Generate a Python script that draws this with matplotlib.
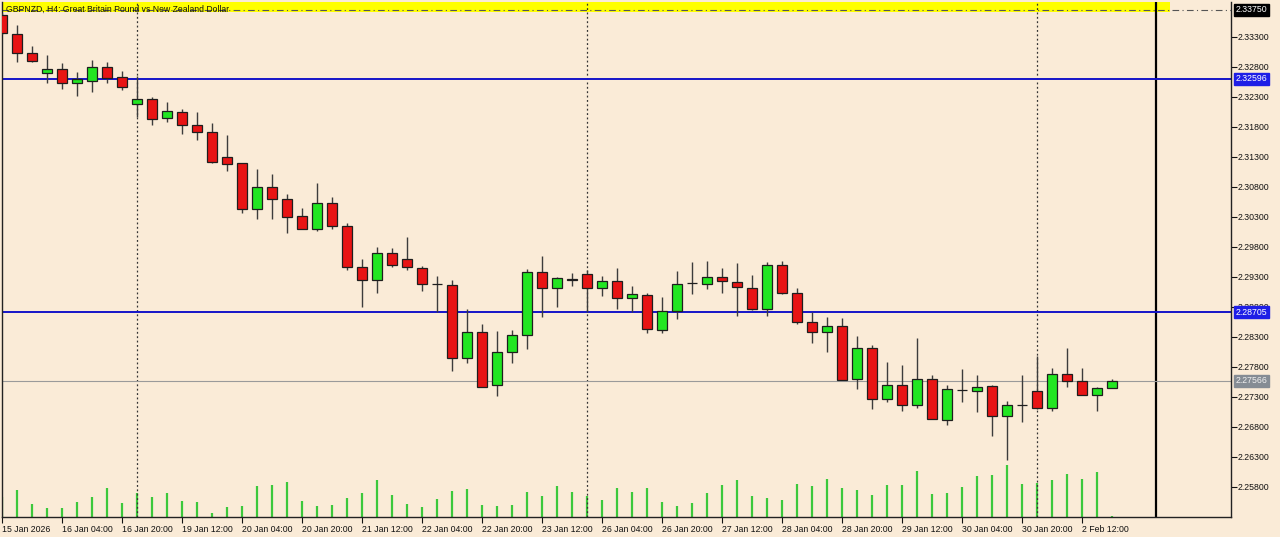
import matplotlib
matplotlib.use("Agg")
import matplotlib.pyplot as plt
import numpy as np

plt.rcParams['font.family'] = ['Liberation Sans', 'DejaVu Sans']

title = "GBPNZD, H4: Great Britain Pound vs New Zealand Dollar"

opens = [2.33662, 2.33345, 2.33033, 2.32690, 2.32767, 2.32523, 2.32567, 2.32800, 2.32623, 2.32173,
         2.32257, 2.31940, 2.32050, 2.31833, 2.31707, 2.31295, 2.31187, 2.30423, 2.30790, 2.30590,
         2.30312, 2.30100, 2.30523, 2.30150, 2.29467, 2.29240, 2.29700, 2.29590, 2.29450, 2.29183,
         2.29157, 2.27950, 2.28373, 2.27495, 2.28040, 2.28323, 2.29373, 2.29107, 2.29257, 2.29345,
         2.29117, 2.29228, 2.28950, 2.28995, 2.28412, 2.28728, 2.29190, 2.29178, 2.29290, 2.29217,
         2.29107, 2.28757, 2.29495, 2.29023, 2.28540, 2.28373, 2.28478, 2.27590, 2.28107, 2.27257,
         2.27495, 2.27157, 2.27600, 2.26907, 2.27412, 2.27395, 2.27478, 2.26983, 2.27162, 2.27395,
         2.27107, 2.27673, 2.27562, 2.27323, 2.27450]
highs = [2.33695, 2.33495, 2.33145, 2.32995, 2.32867, 2.32712, 2.32912, 2.32883, 2.32733, 2.32645,
         2.32290, 2.32212, 2.32090, 2.32045, 2.31867, 2.31667, 2.31195, 2.31095, 2.31012, 2.30678,
         2.30450, 2.30857, 2.30633, 2.30190, 2.29590, 2.29790, 2.29773, 2.29967, 2.29483, 2.29312,
         2.29245, 2.28757, 2.28507, 2.28390, 2.28407, 2.29423, 2.29645, 2.29300, 2.29357, 2.29412,
         2.29312, 2.29440, 2.29145, 2.29033, 2.28967, 2.29395, 2.29545, 2.29562, 2.29440, 2.29523,
         2.29328, 2.29545, 2.29562, 2.29107, 2.28712, 2.28633, 2.28607, 2.28312, 2.28162, 2.27878,
         2.27828, 2.28273, 2.27662, 2.27495, 2.27757, 2.27657, 2.27495, 2.27233, 2.27657, 2.27978,
         2.27773, 2.28107, 2.27783, 2.27457, 2.27595]
lows = [2.33345, 2.32873, 2.32878, 2.32533, 2.32423, 2.32312, 2.32383, 2.32533, 2.32412, 2.31967,
        2.31828, 2.31873, 2.31673, 2.31578, 2.31190, 2.31062, 2.30362, 2.30257, 2.30257, 2.30023,
        2.30095, 2.30062, 2.30100, 2.29412, 2.28800, 2.29033, 2.29467, 2.29412, 2.29067, 2.28712,
        2.27728, 2.27867, 2.27462, 2.27312, 2.27867, 2.28090, 2.28633, 2.28790, 2.29145, 2.28717,
        2.28978, 2.28757, 2.28717, 2.28357, 2.28367, 2.28600, 2.29007, 2.29100, 2.29033, 2.28650,
        2.28745, 2.28650, 2.29012, 2.28512, 2.28200, 2.28045, 2.27573, 2.27423, 2.27090, 2.27217,
        2.27062, 2.27107, 2.26928, 2.26823, 2.27217, 2.27045, 2.26650, 2.26245, 2.26883, 2.27095,
        2.27062, 2.27467, 2.27323, 2.27062, 2.27440]
closes = [2.33362, 2.33033, 2.32900, 2.32767, 2.32523, 2.32590, 2.32800, 2.32617, 2.32457, 2.32257,
          2.31923, 2.32057, 2.31833, 2.31707, 2.31217, 2.31173, 2.30428, 2.30790, 2.30590, 2.30300,
          2.30100, 2.30523, 2.30145, 2.29467, 2.29240, 2.29700, 2.29490, 2.29457, 2.29183, 2.29173,
          2.27950, 2.28373, 2.27467, 2.28045, 2.28323, 2.29373, 2.29107, 2.29273, 2.29252, 2.29117,
          2.29228, 2.28950, 2.29007, 2.28428, 2.28728, 2.29173, 2.29187, 2.29290, 2.29228, 2.29123,
          2.28757, 2.29495, 2.29023, 2.28550, 2.28373, 2.28478, 2.27578, 2.28107, 2.27257, 2.27495,
          2.27157, 2.27600, 2.26928, 2.27423, 2.27407, 2.27467, 2.26983, 2.27162, 2.27167, 2.27107,
          2.27673, 2.27562, 2.27323, 2.27450, 2.27566]
volumes = [1000, 1350, 650, 450, 450, 750, 1000, 1450, 700, 1200,
           1000, 1200, 800, 750, 200, 500, 550, 1550, 1600, 1750,
           800, 550, 600, 950, 1200, 1850, 1100, 650, 500, 900,
           1300, 1400, 600, 550, 600, 1250, 1050, 1550, 1250, 1050,
           850, 1450, 1250, 1450, 750, 550, 700, 1200, 1600, 1850,
           1050, 950, 850, 1650, 1550, 1900, 1450, 1350, 1100, 1600,
           1600, 2300, 1150, 1200, 1500, 2050, 2100, 2600, 1650, 1700,
           1850, 2150, 1900, 2250, 50]

xtick_bars = [0, 4, 8, 12, 16, 20, 24, 28, 32, 36, 40, 44, 48, 52, 56, 60, 64, 68, 72]
xtick_labels = ["15 Jan 2026", "16 Jan 04:00", "16 Jan 20:00", "19 Jan 12:00", "20 Jan 04:00",
                "20 Jan 20:00", "21 Jan 12:00", "22 Jan 04:00", "22 Jan 20:00", "23 Jan 12:00",
                "26 Jan 04:00", "26 Jan 20:00", "27 Jan 12:00", "28 Jan 04:00", "28 Jan 20:00",
                "29 Jan 12:00", "30 Jan 04:00", "30 Jan 20:00", "2 Feb 12:00"]
ytick_values = [2.25800, 2.26300, 2.26800, 2.27300, 2.27800, 2.28300, 2.28800,
                2.29300, 2.29800, 2.30300, 2.30800, 2.31300, 2.31800, 2.32300, 2.32800, 2.33300]
separator_bars = [9, 39, 69]
shift_bar = 76.9
blue_levels = [2.32596, 2.28705]
bid_price = 2.27566
top_level = 2.33750
y_range = (2.25295, 2.33878)
x_range = (0.0, 81.92)

BG = "#FAEBD7"
BULL = "#22E622"
BEAR = "#E81414"
VOLC = "#3CC83C"

W, H = 1280, 537
fig = plt.figure(figsize=(W / 100, H / 100), dpi=100, facecolor=BG)
ax = fig.add_axes([2.3 / W, 20 / H, (1231 - 2.3) / W, 515 / H])
ax.set_facecolor(BG)
ax2 = ax.twinx()
ax.yaxis.tick_right()
ax.set_zorder(2)
ax2.set_zorder(1)
ax.patch.set_visible(False)
ax2.patch.set_visible(True)
ax2.patch.set_facecolor(BG)

x = np.arange(len(opens))
o = np.array(opens); c = np.array(closes); h = np.array(highs); l = np.array(lows)

# volumes
ax2.vlines(x, 0, volumes, colors=VOLC, linewidth=1.6)
ax2.set_ylim(0, 515 * 50)
ax2.set_yticks([])
for s in ax2.spines.values():
    s.set_visible(False)

# yellow band + top dash-dot line
ax.axhspan(2.33712, y_range[1], xmin=0, xmax=(77.85 - x_range[0]) / (x_range[1] - x_range[0]),
           color="#FFFF00", zorder=1, lw=0)
ax.axhline(top_level, color="#555555", lw=0.8, ls=(0, (6, 3, 1, 3)), zorder=2)

# separators
for b in separator_bars:
    ax.axvline(b, color="#333333", lw=0.9, ls=(0, (1.5, 2)), zorder=1.5)
ax.axvline(shift_bar, color="black", lw=1.6, zorder=1.5)

# levels
for lv in blue_levels:
    ax.axhline(lv, color="#1414C8", lw=1.4, zorder=2)
ax.axhline(bid_price, color="#9A9A9A", lw=0.8, zorder=1.6)

# candles
ax.vlines(x, l, h, colors="#3C3C3C", linewidth=1.0, zorder=3)
bull = c >= o
bottoms = np.minimum(o, c)
heights = np.maximum(np.abs(c - o), 0.00003)
colors = [BULL if b else BEAR for b in bull]
ax.bar(x, heights, bottom=bottoms, width=0.65, color=colors, edgecolor="#1E1E1E",
       linewidth=0.9, zorder=4)

ax.set_xlim(*x_range)
ax.set_ylim(*y_range)

# axes styling
for side in ["left", "bottom", "right"]:
    ax.spines[side].set_color("#222222")
    ax.spines[side].set_linewidth(1.0)
ax.spines["top"].set_visible(False)

ax.set_xticks(xtick_bars)
ax.set_xticklabels(xtick_labels, ha="left", fontsize=6.3)
ax.tick_params(axis="x", direction="out", length=4, width=0.8, pad=2, colors="#111111")
ax.set_yticks(ytick_values)
ax.set_yticklabels([f"{v:.5f}" for v in ytick_values], fontsize=6.3)
ax.tick_params(axis="y", direction="out", length=4, width=0.8, pad=1, colors="#111111",
               right=True, left=False, labelright=True, labelleft=False)

# title
ax.text(4 / 1228.7, top_level, title, transform=ax.get_yaxis_transform(),
        fontsize=6.2, va="center", ha="left", color="#111111", zorder=6)

# price boxes
boxes = [(top_level, "black", "white"), (blue_levels[0], "#1E1EE6", "white"),
         (blue_levels[1], "#1E1EE6", "white"), (bid_price, "#858C94", "#F0F0F0")]
for val, bg, fg in boxes:
    ax.text(1.0 + 5 / 1228.7, val, f"{val:.5f}", transform=ax.get_yaxis_transform(),
            fontsize=6.3, va="center", ha="left", color=fg, clip_on=False, zorder=10,
            bbox=dict(boxstyle="square,pad=0.18", facecolor=bg, edgecolor=bg))

fig.savefig("out.png", dpi=100, facecolor=BG)
